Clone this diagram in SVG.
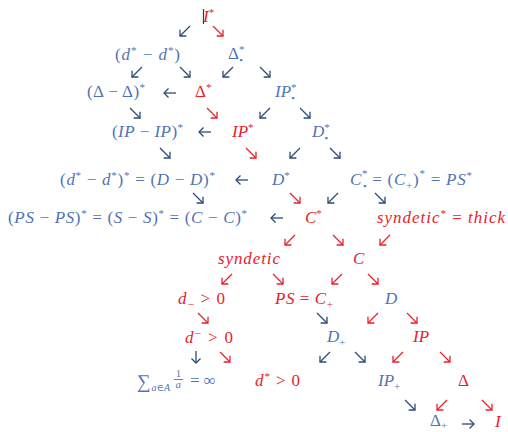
<svg xmlns="http://www.w3.org/2000/svg" width="508" height="432" viewBox="0 0 508 432">
<defs>
<style>
text{font-family:"Liberation Serif","DejaVu Serif",serif;font-size:17px;font-style:normal}
.i{font-style:italic}
.s{font-size:11px}
.d{font-size:9px;font-weight:bold}
.b{fill:#4f74b4}
.r{fill:#e8212b}
.ak{stroke:#2b4a7a;stroke-width:1.3;fill:none;marker-end:url(#hk)}
.ar{stroke:#e8212b;stroke-width:1.3;fill:none;marker-end:url(#hr)}
</style>
<marker id="hk" viewBox="0 0 10 10" refX="9" refY="5" markerWidth="10" markerHeight="10" markerUnits="userSpaceOnUse" orient="auto"><path d="M4.5,0.5 L9,5 L4.5,9.5" fill="none" stroke="#2b4a7a" stroke-width="1.3"/></marker>
<marker id="hr" viewBox="0 0 10 10" refX="9" refY="5" markerWidth="10" markerHeight="10" markerUnits="userSpaceOnUse" orient="auto"><path d="M4.5,0.5 L9,5 L4.5,9.5" fill="none" stroke="#e8212b" stroke-width="1.3"/></marker>
</defs>
<rect width="508" height="432" fill="#ffffff"/>

<g id="connectors">
<path class="ak" d="M190,26 L180,36"/>
<path class="ar" d="M213,26 L223,36"/>
<path class="ak" d="M142,67 L132,77"/>
<path class="ak" d="M180,67 L190,77"/>
<path class="ak" d="M233,67 L223,77"/>
<path class="ak" d="M260,67 L270,77"/>
<path class="ak" d="M176,93 L164,93"/>
<path class="ak" d="M130,108 L140,118"/>
<path class="ar" d="M207,108 L217,118"/>
<path class="ak" d="M270,108 L260,118"/>
<path class="ak" d="M300,108 L310,118"/>
<path class="ak" d="M211,132 L199,132"/>
<path class="ak" d="M160,148 L170,158"/>
<path class="ar" d="M246,148 L256,158"/>
<path class="ak" d="M300,148 L290,158"/>
<path class="ak" d="M330,148 L340,158"/>
<path class="ak" d="M248,180 L236,180"/>
<path class="ak" d="M193,193 L203,203"/>
<path class="ar" d="M290,193 L300,203"/>
<path class="ak" d="M338,193 L328,203"/>
<path class="ak" d="M375,193 L385,203"/>
<path class="ak" d="M283,218 L271,218"/>
<path class="ar" d="M295,235 L285,245"/>
<path class="ar" d="M333,235 L343,245"/>
<path class="ar" d="M390,235 L380,245"/>
<path class="ar" d="M232,274 L222,284"/>
<path class="ar" d="M273,274 L283,284"/>
<path class="ar" d="M342,274 L332,284"/>
<path class="ar" d="M368,274 L378,284"/>
<path class="ar" d="M198,313 L208,323"/>
<path class="ak" d="M317,313 L327,323"/>
<path class="ar" d="M378,313 L368,323"/>
<path class="ar" d="M407,313 L417,323"/>
<path class="ak" d="M196,351 L196,363"/>
<path class="ar" d="M220,352 L230,362"/>
<path class="ak" d="M330,352 L320,362"/>
<path class="ak" d="M355,352 L365,362"/>
<path class="ar" d="M403,352 L393,362"/>
<path class="ar" d="M440,352 L450,362"/>
<path class="ak" d="M405,400 L415,410"/>
<path class="ar" d="M447,400 L437,410"/>
<path class="ar" d="M482,400 L492,410"/>
<path class="ak" d="M462,424 L474,424"/>
</g>

<g id="n-Istar">
<line x1="203.5" y1="9" x2="203.5" y2="24" stroke="#5a2a2a" stroke-width="1.2"/>
<text class="r" x="203" y="22"><tspan class="i">I</tspan><tspan class="s" dy="-6">*</tspan></text>
</g>
<g id="n-dd"><text class="b" x="115" y="60" textLength="65" lengthAdjust="spacing">(<tspan class="i">d</tspan><tspan class="s" dy="-6">*</tspan><tspan dy="6"> − </tspan><tspan class="i">d</tspan><tspan class="s" dy="-6">*</tspan><tspan dy="6">)</tspan></text></g>
<g id="n-Deltadot"><text class="b" x="228" y="59">Δ<tspan class="s" dy="-6">*</tspan><tspan class="d" dx="-5" dy="10">•</tspan></text></g>
<g id="n-DD"><text class="b" x="87" y="97" textLength="58" lengthAdjust="spacing">(Δ − Δ)<tspan class="s" dy="-6">*</tspan></text></g>
<g id="n-Deltastar"><text class="r" x="195" y="97">Δ<tspan class="s" dy="-6">*</tspan></text></g>
<g id="n-IPdot"><text class="b" x="275" y="97"><tspan class="i">IP</tspan><tspan class="s" dy="-6">*</tspan><tspan class="d" dx="-5" dy="10">•</tspan></text></g>
<g id="n-IPIP"><text class="b" x="112" y="137" textLength="71" lengthAdjust="spacing">(<tspan class="i">IP</tspan> − <tspan class="i">IP</tspan>)<tspan class="s" dy="-6">*</tspan></text></g>
<g id="n-IPstar"><text class="r" x="232" y="137"><tspan class="i">IP</tspan><tspan class="s" dy="-6">*</tspan></text></g>
<g id="n-Ddot"><text class="b" x="312" y="137"><tspan class="i">D</tspan><tspan class="s" dy="-6">*</tspan><tspan class="d" dx="-5" dy="10">•</tspan></text></g>
<g id="n-row9"><text class="b" x="60" y="185" textLength="155" lengthAdjust="spacing">(<tspan class="i">d</tspan><tspan class="s" dy="-6">*</tspan><tspan dy="6"> − </tspan><tspan class="i">d</tspan><tspan class="s" dy="-6">*</tspan><tspan dy="6">)</tspan><tspan class="s" dy="-6">*</tspan><tspan dy="6"> = (</tspan><tspan class="i">D</tspan> − <tspan class="i">D</tspan>)<tspan class="s" dy="-6">*</tspan></text></g>
<g id="n-Dstar"><text class="b" x="272" y="185"><tspan class="i">D</tspan><tspan class="s" dy="-6">*</tspan></text></g>
<g id="n-Cdot"><text class="b" x="350" y="185" textLength="122" lengthAdjust="spacing"><tspan class="i">C</tspan><tspan class="s" dy="-8">*</tspan><tspan class="d" dx="-5" dy="12">•</tspan><tspan dy="-4"> = (</tspan><tspan class="i">C</tspan><tspan class="s" dy="4">+</tspan><tspan dy="-4">)</tspan><tspan class="s" dy="-8">*</tspan><tspan dy="8"> = </tspan><tspan class="i">PS</tspan><tspan class="s" dy="-6">*</tspan></text></g>
<g id="n-row11"><text class="b" x="8" y="223" textLength="239" lengthAdjust="spacing">(<tspan class="i">PS</tspan> − <tspan class="i">PS</tspan>)<tspan class="s" dy="-6">*</tspan><tspan dy="6"> = (</tspan><tspan class="i">S</tspan> − <tspan class="i">S</tspan>)<tspan class="s" dy="-6">*</tspan><tspan dy="6"> = (</tspan><tspan class="i">C</tspan> − <tspan class="i">C</tspan>)<tspan class="s" dy="-6">*</tspan></text></g>
<g id="n-Cstar"><text class="r" x="305" y="223"><tspan class="i">C</tspan><tspan class="s" dy="-6">*</tspan></text></g>
<g id="n-syndstar"><text class="r" x="377" y="223" textLength="128" lengthAdjust="spacing"><tspan class="i">syndetic</tspan><tspan class="s" dy="-6">*</tspan><tspan dy="6"> = </tspan><tspan class="i">thick</tspan></text></g>
<g id="n-synd"><text class="r i" x="218" y="264" textLength="62" lengthAdjust="spacing">syndetic</text></g>
<g id="n-C"><text class="r i" x="353" y="264">C</text></g>
<g id="n-dminus"><text class="r" x="178" y="304" textLength="47" lengthAdjust="spacing"><tspan class="i">d</tspan><tspan class="s" dy="4">−</tspan><tspan dy="-4"> &gt; 0</tspan></text></g>
<g id="n-PS"><text class="r" x="275" y="304" textLength="58" lengthAdjust="spacing"><tspan class="i">PS</tspan> = <tspan class="i">C</tspan><tspan class="s" dy="4">+</tspan></text></g>
<g id="n-D"><text class="b i" x="385" y="304">D</text></g>
<g id="n-dsup"><text class="r" x="185" y="343" textLength="48" lengthAdjust="spacing"><tspan class="i">d</tspan><tspan class="s" dy="-6">−</tspan><tspan dy="6"> &gt; 0</tspan></text></g>
<g id="n-Dplus"><text class="b" x="327" y="342"><tspan class="i">D</tspan><tspan class="s" dy="4">+</tspan></text></g>
<g id="n-IP"><text class="r i" x="413" y="342">IP</text></g>
<g id="n-sum">
<text class="b" x="137" y="388" style="font-size:19px">∑<tspan style="font-size:10px" dy="3" dx="1" class="i">a</tspan><tspan style="font-size:10px">∈</tspan><tspan style="font-size:10px" class="i">A</tspan></text>
<text class="b" x="176" y="377" style="font-size:10px">1</text>
<line x1="174" y1="379.5" x2="183" y2="379.5" stroke="#4f74b4" stroke-width="0.9"/>
<text class="b i" x="175.5" y="388" style="font-size:11px">a</text>
<text class="b" x="190" y="386">= ∞</text>
</g>
<g id="n-dstar"><text class="r" x="255" y="386" textLength="45" lengthAdjust="spacing"><tspan class="i">d</tspan><tspan class="s" dy="-6">*</tspan><tspan dy="6"> &gt; 0</tspan></text></g>
<g id="n-IPplus"><text class="b" x="378" y="386"><tspan class="i">IP</tspan><tspan class="s" dy="4">+</tspan></text></g>
<g id="n-Delta"><text class="r" x="458" y="386">Δ</text></g>
<g id="n-Deltaplus"><text class="b" x="430" y="426">Δ<tspan class="s" dy="3">+</tspan></text></g>
<g id="n-I"><text class="r i" x="495" y="427">I</text></g>
</svg>
